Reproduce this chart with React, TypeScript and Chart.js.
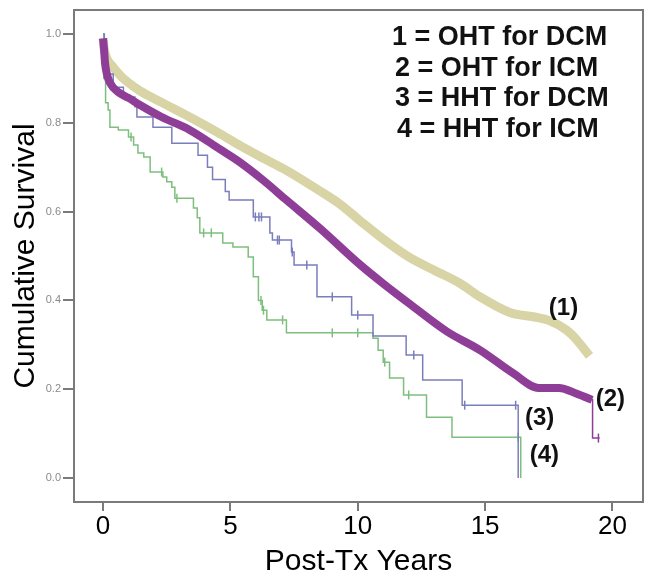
import React, { useEffect, useRef } from 'react';
import { Chart, registerables } from 'chart.js';

Chart.register(...registerables);

// ---- axis ticks ----
const xTicks = [0, 5, 10, 15, 20];
const yTicks = [0, 0.2, 0.4, 0.6, 0.8, 1.0];

// ---- (1) OHT for DCM ----
const ohtDcmYears = [0, 0.05, 0.15, 0.4, 0.7, 1.0, 1.45, 2.3, 3.4, 4.6, 5.4, 6.3, 7.2, 8.5, 9.3, 10.1, 11.0, 12.0, 13.0, 14.0, 14.8, 16.0, 17.0, 17.5, 18.2, 18.6, 19.1];
const ohtDcmSurv = [0.99, 0.965, 0.945, 0.925, 0.905, 0.89, 0.872, 0.846, 0.813, 0.775, 0.748, 0.72, 0.693, 0.647, 0.617, 0.579, 0.538, 0.498, 0.468, 0.439, 0.408, 0.372, 0.362, 0.355, 0.333, 0.311, 0.275];

// ---- (2) OHT for ICM ----
const ohtIcmYears = [0, 0.04, 0.08, 0.15, 0.27, 0.6, 1.0, 1.45, 2.3, 3.4, 4.6, 5.4, 6.3, 7.2, 8.5, 10.1, 11.0, 12.0, 13.5, 14.8, 16.1, 17.1, 17.9, 18.6, 19.2];
const ohtIcmSurv = [0.99, 0.965, 0.934, 0.91, 0.89, 0.869, 0.856, 0.84, 0.813, 0.784, 0.74, 0.71, 0.67, 0.626, 0.563, 0.48, 0.438, 0.394, 0.33, 0.288, 0.236, 0.203, 0.203, 0.19, 0.176];
// last sparse stretch of (2), drawn as a thin KM step
const ohtIcmTailYears = [19.2, 19.22, 19.5];
const ohtIcmTailSurv = [0.176, 0.09, 0.09];
const ohtIcmCensor = [19.45];

// ---- (3) HHT for DCM (Kaplan-Meier steps) ----
const hhtDcmYears = [0, 0.05, 0.15, 0.4, 0.8, 1.25, 1.33, 1.96, 2.7, 3.73, 4.1, 4.3, 4.8, 4.95, 5.9, 6.55, 6.65, 7.4, 7.5, 8.4, 9.76, 10.6, 11.9, 12.55, 14.1, 16.3];
const hhtDcmSurv = [1.0, 0.95, 0.91, 0.88, 0.858, 0.836, 0.813, 0.79, 0.754, 0.727, 0.70, 0.672, 0.645, 0.626, 0.588, 0.552, 0.536, 0.509, 0.48, 0.408, 0.367, 0.32, 0.277, 0.221, 0.164, 0.0];
const hhtDcmCensor = [5.98, 6.12, 6.22, 6.85, 6.92, 7.43, 8.0, 9.0, 10.0, 12.2, 14.2, 16.2];

// ---- (4) HHT for ICM (Kaplan-Meier steps) ----
const hhtIcmYears = [0, 0.03, 0.1, 0.2, 0.27, 0.6, 1.0, 1.2, 1.37, 1.6, 1.85, 2.35, 2.5, 2.7, 2.82, 3.55, 3.7, 3.8, 4.7, 5.1, 5.7, 5.9, 6.1, 6.25, 6.43, 7.2, 10.6, 10.8, 11.0, 11.25, 11.8, 12.7, 13.7, 16.4];
const hhtIcmSurv = [1.0, 0.90, 0.845, 0.829, 0.79, 0.784, 0.768, 0.75, 0.732, 0.723, 0.689, 0.678, 0.667, 0.655, 0.63, 0.608, 0.586, 0.552, 0.529, 0.52, 0.498, 0.453, 0.40, 0.378, 0.356, 0.327, 0.315, 0.288, 0.261, 0.225, 0.187, 0.137, 0.092, 0.0];
const hhtIcmCensor = [1.1, 2.3, 2.9, 3.95, 4.25, 6.2, 6.3, 7.05, 9.0, 10.0, 11.06, 12.0, 16.3];

// ---- text ----
const legendLines = ['1 = OHT for DCM', '2 = OHT for ICM', '3 = HHT for DCM', '4 = HHT for ICM'];
const curveLabels = ['(1)', '(2)', '(3)', '(4)'];

// annotation anchor positions (data coordinates) for curve labels
const curveLabelAt = [
  { x: 18.08, y: 0.381 },
  { x: 19.92, y: 0.176 },
  { x: 17.14, y: 0.135 },
  { x: 17.33, y: 0.052 },
];

const COLORS = {
  ohtDcm: 'rgb(216, 212, 166)',
  ohtIcm: 'rgb(143, 62, 152)',
  hhtDcm: 'rgb(122, 126, 188)',
  hhtIcm: 'rgb(126, 190, 126)',
  axis: '#7a7a7a',
};
const FONT = '"Liberation Sans", Arial, Helvetica, sans-serif';

function pts(xs: number[], ys: number[]) {
  return xs.map((x, i) => ({ x, y: ys[i] }));
}
function survAt(xs: number[], ys: number[], t: number) {
  let v = ys[0];
  for (let i = 0; i < xs.length; i++) if (xs[i] <= t) v = ys[i];
  return v;
}
function censorPts(xs: number[], ys: number[], cs: number[]) {
  return cs.map((t) => ({ x: t, y: survAt(xs, ys, t) }));
}

const annotPlugin = {
  id: 'annot',
  afterDraw(chart: any) {
    const { ctx, chartArea: ca, scales } = chart;
    ctx.save();
    ctx.strokeStyle = COLORS.axis;
    ctx.lineWidth = 2;
    ctx.beginPath();
    ctx.moveTo(ca.left, ca.top);
    ctx.lineTo(ca.right, ca.top);
    ctx.lineTo(ca.right, ca.bottom);
    ctx.stroke();

    ctx.fillStyle = '#111';
    ctx.font = `bold 27px ${FONT}`;
    ctx.textAlign = 'left';
    ctx.textBaseline = 'alphabetic';
    const indents = [0, 3, 3, 5];
    legendLines.forEach((t, i) => {
      ctx.fillText(t, ca.right - 251 + indents[i], ca.top + 35 + i * 30.7);
    });

    ctx.font = `bold 24px ${FONT}`;
    ctx.textAlign = 'center';
    ctx.textBaseline = 'middle';
    curveLabels.forEach((t, i) => {
      const p = curveLabelAt[i];
      ctx.fillText(t, scales.x.getPixelForValue(p.x), scales.y.getPixelForValue(p.y));
    });
    ctx.restore();
  },
};

export default function App() {
  const ref = useRef<HTMLCanvasElement | null>(null);
  useEffect(() => {
    if (!ref.current) return;
    const censorStyle = (color: string) => ({
      type: 'scatter' as const,
      showLine: false,
      pointStyle: 'line',
      rotation: 90,
      pointRadius: 4.5,
      pointBorderWidth: 1.5,
      borderColor: color,
      backgroundColor: color,
    });
    const chart = new Chart(ref.current, {
      type: 'line',
      data: {
        datasets: [
          {
            label: 'OHT for ICM',
            data: pts(ohtIcmYears, ohtIcmSurv),
            borderColor: COLORS.ohtIcm,
            borderWidth: 8,
            pointRadius: 0,
            cubicInterpolationMode: 'monotone',
            borderJoinStyle: 'round',
            borderCapStyle: 'butt',
            order: 1,
          } as any,
          {
            label: 'OHT for ICM tail',
            data: pts(ohtIcmTailYears, ohtIcmTailSurv),
            borderColor: COLORS.ohtIcm,
            borderWidth: 1.5,
            pointRadius: 0,
            stepped: 'before',
            order: 1,
          } as any,
          { label: 'OHT ICM censored', data: censorPts(ohtIcmTailYears, ohtIcmTailSurv, ohtIcmCensor), ...censorStyle(COLORS.ohtIcm), order: 1 } as any,
          {
            label: 'OHT for DCM',
            data: pts(ohtDcmYears, ohtDcmSurv),
            borderColor: COLORS.ohtDcm,
            borderWidth: 9,
            pointRadius: 0,
            cubicInterpolationMode: 'monotone',
            borderJoinStyle: 'round',
            order: 4,
          } as any,
          {
            label: 'HHT for DCM',
            data: pts(hhtDcmYears, hhtDcmSurv),
            borderColor: COLORS.hhtDcm,
            borderWidth: 1.5,
            pointRadius: 0,
            stepped: 'before',
            order: 2,
          } as any,
          { label: 'HHT DCM censored', data: censorPts(hhtDcmYears, hhtDcmSurv, hhtDcmCensor), ...censorStyle(COLORS.hhtDcm), order: 2 } as any,
          {
            label: 'HHT for ICM',
            data: pts(hhtIcmYears, hhtIcmSurv),
            borderColor: COLORS.hhtIcm,
            borderWidth: 1.5,
            pointRadius: 0,
            stepped: 'before',
            order: 3,
          } as any,
          { label: 'HHT ICM censored', data: censorPts(hhtIcmYears, hhtIcmSurv, hhtIcmCensor), ...censorStyle(COLORS.hhtIcm), order: 3 } as any,
        ],
      },
      options: {
        animation: false,
        responsive: false,
        layout: { padding: { left: 0, top: 10, right: 6, bottom: 0 } },
        plugins: { legend: { display: false }, tooltip: { enabled: false } },
        scales: {
          x: {
            type: 'linear',
            min: -1.14,
            max: 21.2,
            afterBuildTicks: (s: any) => { s.ticks = xTicks.map((v) => ({ value: v })); },
            afterFit: (s: any) => { s.height = 73; },
            ticks: {
              color: '#000',
              padding: 0,
              maxRotation: 0,
              font: { family: FONT, size: 26 },
              callback: (v: any) => String(v),
            },
            grid: { display: true, drawOnChartArea: false, drawTicks: true, tickLength: 9, color: COLORS.axis, lineWidth: 2 },
            border: { display: true, color: COLORS.axis, width: 2 },
            title: {
              display: true,
              text: 'Post-Tx Years',
              color: '#000',
              font: { family: FONT, size: 30, lineHeight: 0.8 },
              padding: { top: 0, bottom: 1 },
            },
          },
          y: {
            type: 'linear',
            min: -0.054,
            max: 1.054,
            afterBuildTicks: (s: any) => { s.ticks = yTicks.map((v) => ({ value: v })); },
            afterFit: (s: any) => { s.width = 74; },
            ticks: {
              color: '#8a8a8a',
              padding: 2,
              font: { family: FONT, size: 11 },
              callback: (v: any) => Number(v).toFixed(1),
            },
            grid: { display: true, drawOnChartArea: false, drawTicks: true, tickLength: 11, color: COLORS.axis, lineWidth: 2 },
            border: { display: true, color: COLORS.axis, width: 2 },
            title: {
              display: true,
              text: 'Cumulative Survival',
              color: '#000',
              font: { family: FONT, size: 30 },
              padding: { top: 8, bottom: 0 },
            },
          },
        },
      } as any,
      plugins: [annotPlugin],
    });
    return () => chart.destroy();
  }, []);

  return (
    <div style={{ position: 'absolute', left: 0, top: 0, width: 649, height: 575, background: '#fff' }}>
      <canvas ref={ref} width={649} height={575} style={{ display: 'block' }} />
    </div>
  );
}
